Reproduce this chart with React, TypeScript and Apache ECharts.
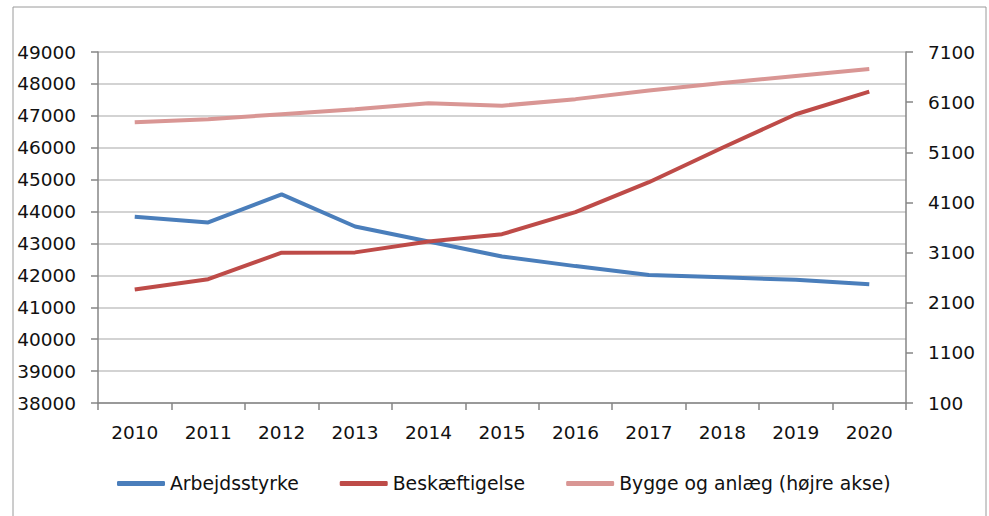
import React, { useEffect, useRef } from "react";
import * as echarts from "echarts";

const years = ["2010", "2011", "2012", "2013", "2014", "2015", "2016", "2017", "2018", "2019", "2020"];
const arbejdsstyrke = [43840, 43660, 44540, 43530, 43060, 42590, 42290, 42010, 41940, 41860, 41720];
const beskaeftigelse = [41560, 41880, 42710, 42720, 43060, 43290, 43980, 44920, 46000, 47050, 47760];
const byggeOgAnlaeg = [5700, 5760, 5860, 5960, 6080, 6030, 6160, 6330, 6480, 6620, 6760];

const FONT = "DejaVu Sans";

export default function App() {
  const ref = useRef<HTMLDivElement>(null);
  useEffect(() => {
    if (!ref.current) return;
    const chart = echarts.init(ref.current, null, { renderer: "svg" });
    const plain = (v: number) => String(v);
    chart.setOption({
      animation: false,
      backgroundColor: "#ffffff",
      textStyle: { fontFamily: FONT },
      graphic: [
        {
          type: "rect",
          shape: { x: 13, y: 7, width: 973, height: 520 },
          style: { fill: "none", stroke: "#9a9a9a", lineWidth: 1 },
          silent: true,
        },
      ],
      grid: { left: 98, right: 83, top: 52, bottom: 113 },
      legend: {
        bottom: 18,
        left: 112,
        icon: "roundRect",
        itemWidth: 48,
        itemHeight: 5,
        itemGap: 41,
        textStyle: { fontFamily: FONT, fontSize: 18.8, color: "#111" },
        data: ["Arbejdsstyrke", "Beskæftigelse", "Bygge og anlæg (højre akse)"],
      },
      xAxis: {
        type: "category",
        data: years,
        boundaryGap: true,
        axisLine: { lineStyle: { color: "#868686", width: 1.5 } },
        axisTick: { show: true, length: 7, lineStyle: { color: "#868686", width: 1.5 } },
        axisLabel: { color: "#111", fontSize: 18.5, fontFamily: FONT, margin: 20 },
      },
      yAxis: [
        {
          type: "value",
          min: 38000,
          max: 49000,
          interval: 1000,
          axisLine: { show: true, lineStyle: { color: "#868686", width: 1.5 } },
          axisTick: { show: true, length: 7, lineStyle: { color: "#868686", width: 1.5 } },
          axisLabel: { color: "#111", fontSize: 18.5, fontFamily: FONT, margin: 22, formatter: plain },
          splitLine: { lineStyle: { color: "#c4c4c4", width: 1.5 } },
        },
        {
          type: "value",
          min: 100,
          max: 7100,
          interval: 1000,
          position: "right",
          axisLine: { show: true, lineStyle: { color: "#868686", width: 1.5 } },
          axisTick: { show: true, length: 7, lineStyle: { color: "#868686", width: 1.5 } },
          axisLabel: { color: "#111", fontSize: 18.5, fontFamily: FONT, margin: 22, formatter: plain },
          splitLine: { show: false },
        },
      ],
      series: [
        {
          name: "Arbejdsstyrke",
          type: "line",
          data: arbejdsstyrke,
          yAxisIndex: 0,
          symbol: "none",
          color: "#4a7ebb",
          lineStyle: { width: 4, color: "#4a7ebb" },
        },
        {
          name: "Beskæftigelse",
          type: "line",
          data: beskaeftigelse,
          yAxisIndex: 0,
          symbol: "none",
          color: "#be4b48",
          lineStyle: { width: 4, color: "#be4b48" },
        },
        {
          name: "Bygge og anlæg (højre akse)",
          type: "line",
          data: byggeOgAnlaeg,
          yAxisIndex: 1,
          symbol: "none",
          color: "#d99694",
          lineStyle: { width: 4, color: "#d99694" },
        },
      ],
    });
    return () => chart.dispose();
  }, []);
  return (
    <div
      ref={ref}
      style={{ position: "absolute", left: 0, top: 0, width: 989, height: 516 }}
    />
  );
}
